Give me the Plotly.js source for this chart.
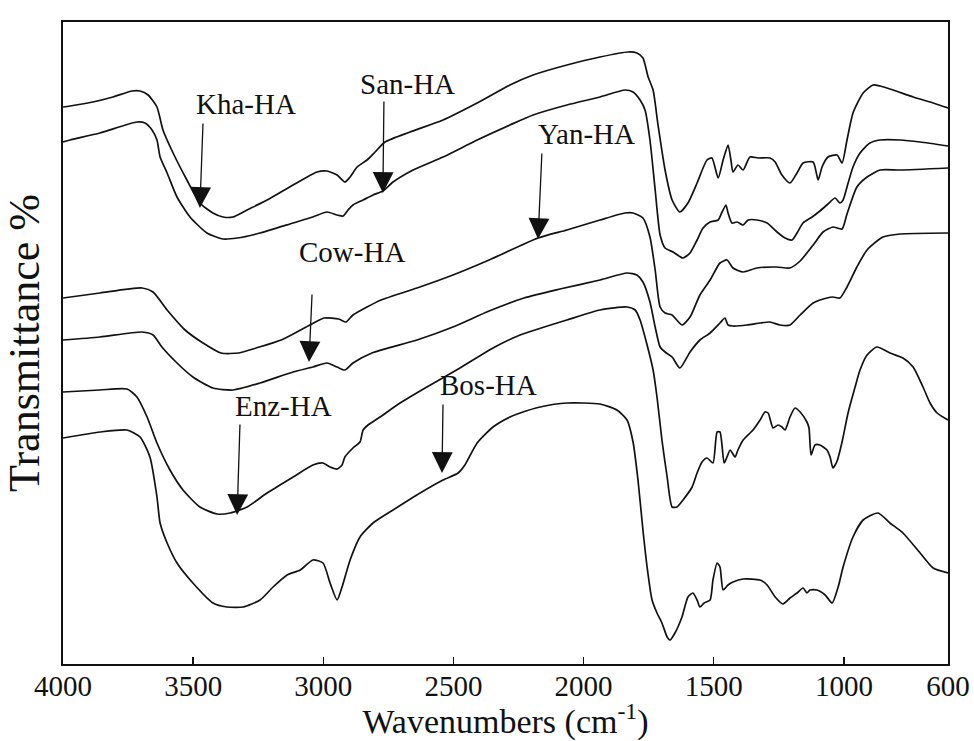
<!DOCTYPE html>
<html>
<head>
<meta charset="utf-8">
<script src="https://cdn.plot.ly/plotly-3.0.1.min.js"></script>
<style>html,body{margin:0;padding:0;background:#fff;}#chart{width:974px;height:741px;}</style>
</head>
<body>
<div id="chart"></div>
<script>
// Wavenumber (cm-1) and offset transmittance for each humic acid spectrum
const wn_kha = [4000,3973,3885,3808,3735,3704,3673,3639,3616,3577,3524,3474,3424,3385,3347,3293,3216,3116,3024,2986,2947,2917,2897,2870,2832,2801,2763,2667,2540,2409,2283,2194,2064,1937,1829,1795,1772,1752,1733,1714,1687,1660,1630,1599,1564,1526,1507,1483,1464,1445,1434,1426,1407,1387,1361,1330,1284,1264,1238,1207,1180,1157,1118,1099,1084,1061,1026,1007,988,965,926,888,861,811,734,657,600];
const t_kha = [55.7,55.8,56.2,56.7,57.3,57.3,56.9,55.7,53.4,51.1,48.4,46.1,45.1,44.7,44.7,45.4,46.4,47.9,49.2,49.3,48.9,48.2,48.7,49.7,50.4,51.2,52.2,53.2,54.4,56.1,57.9,58.9,59.9,60.7,61.2,61.1,60.6,58.7,57.4,53.9,49.4,46.4,45.2,46.1,48.1,50.4,50.6,48.6,50.4,51.9,50.4,49.2,49.9,49.4,50.7,50.6,50.6,50.2,48.9,48.1,49.1,50.1,50.2,48.4,49.7,50.7,50.9,50.1,52.4,55.1,57.1,57.9,57.8,57.4,56.7,56.1,55.6];

const wn_san = [4000,3973,3858,3716,3685,3658,3639,3627,3600,3562,3512,3447,3385,3331,3243,3116,3040,2986,2947,2924,2905,2886,2847,2809,2771,2732,2655,2540,2409,2283,2194,2064,1937,1841,1810,1783,1764,1745,1725,1706,1687,1656,1618,1591,1564,1541,1514,1483,1468,1453,1445,1430,1410,1387,1368,1334,1295,1257,1226,1199,1180,1157,1122,1092,1061,1034,1015,1003,988,965,938,900,861,784,707,600];
const t_san = [52.2,52.4,53.1,54.2,54.1,53.4,52.4,50.7,49.1,46.7,44.7,43.1,42.5,42.6,43.1,44.1,44.7,45.2,44.9,44.8,45.4,45.9,46.4,46.9,47.3,48.2,49.4,50.7,52.4,53.9,54.9,55.9,56.7,57.4,57.2,56.4,55.4,52.4,47.4,42.9,41.6,41.2,40.6,41.1,42.4,43.6,44.2,44.4,45.2,45.9,45.1,44.1,44.2,43.9,44.4,44.4,44.1,43.2,42.6,42.4,43.1,44.1,44.7,45.3,46.0,46.6,46.1,46.4,47.7,49.7,51.1,52.1,52.4,52.4,52.2,51.8];

const wn_yan = [4000,3858,3696,3654,3600,3531,3462,3393,3324,3258,3162,3051,2997,2940,2913,2886,2832,2778,2640,2502,2363,2175,2064,1937,1841,1810,1772,1745,1725,1706,1687,1660,1622,1591,1553,1514,1476,1449,1426,1387,1334,1257,1207,1168,1118,1080,1042,1007,988,950,911,861,784,600];
const t_yan = [36.6,37.1,37.6,37.2,35.4,33.4,32.1,31.1,31.1,31.6,32.4,33.9,34.6,34.5,34.2,34.9,35.7,36.4,37.6,38.9,40.4,42.6,43.4,44.4,45.1,45.1,44.6,42.7,39.4,35.7,35.1,34.9,33.9,34.7,36.9,38.4,40.1,40.4,39.6,39.2,39.6,39.7,39.6,40.3,41.9,43.2,43.7,43.5,45.0,47.7,48.7,49.4,49.4,49.6];

const wn_cow = [4000,3858,3696,3654,3620,3562,3501,3424,3347,3243,3116,3040,2986,2947,2917,2886,2813,2640,2502,2363,2229,2091,1937,1833,1795,1772,1745,1725,1706,1687,1660,1630,1591,1553,1514,1476,1457,1445,1426,1372,1322,1284,1245,1207,1168,1118,1065,1042,1015,988,950,911,850,784,600];
const t_cow = [32.4,32.7,33.2,32.9,31.7,30.1,28.7,27.6,27.4,28.1,29.2,29.7,30.1,29.7,29.4,30.1,31.1,32.4,33.7,35.3,36.6,37.5,38.4,39.1,38.9,38.2,36.2,33.7,31.7,31.2,30.7,29.6,31.2,32.4,33.1,34.1,34.6,33.9,33.8,33.9,34.1,34.2,33.9,33.9,34.9,36.1,36.6,36.7,36.6,37.7,39.7,41.4,42.7,43.0,43.1];

const wn_enz = [4000,3858,3754,3716,3677,3639,3589,3539,3474,3408,3358,3293,3216,3116,3040,3001,2974,2947,2928,2917,2886,2859,2847,2828,2782,2705,2602,2475,2348,2244,2064,1937,1833,1802,1783,1756,1733,1718,1699,1679,1660,1641,1618,1583,1564,1545,1526,1503,1487,1476,1460,1449,1437,1418,1407,1387,1349,1322,1303,1291,1272,1253,1238,1226,1207,1188,1168,1142,1134,1126,1111,1092,1065,1053,1042,1026,1007,984,957,938,911,873,823,773,734,696,669,642,600];
const t_enz = [27.2,27.4,27.5,26.7,24.7,22.1,19.4,17.4,15.7,15.0,15.1,15.7,17.1,18.7,19.9,20.1,19.7,19.5,19.9,20.7,21.6,22.2,23.4,23.9,24.7,26.1,27.7,29.6,31.6,32.9,34.4,35.4,35.7,35.4,34.4,31.9,29.4,26.7,22.4,18.7,15.7,15.7,16.4,17.7,19.1,20.2,20.6,20.1,23.2,23.2,20.1,20.7,21.4,20.7,21.4,22.4,23.4,24.4,25.2,25.1,23.6,23.9,23.7,23.4,24.7,25.6,25.2,24.2,23.6,20.9,21.9,21.9,21.4,20.7,19.6,20.3,22.2,25.1,27.7,29.4,30.9,31.7,31.1,30.6,29.7,27.7,26.1,25.1,24.4];

const wn_bos = [4000,3858,3754,3704,3666,3639,3627,3600,3562,3501,3424,3370,3308,3243,3193,3139,3089,3040,3001,2974,2947,2928,2897,2859,2809,2732,2628,2540,2482,2456,2409,2348,2283,2244,2167,2064,1937,1872,1833,1810,1791,1772,1756,1737,1718,1699,1679,1668,1649,1622,1599,1580,1564,1553,1537,1514,1503,1487,1476,1464,1445,1426,1387,1322,1295,1264,1234,1207,1180,1157,1142,1130,1103,1072,1045,1022,1003,965,926,869,823,773,707,657,600];
const t_bos = [22.6,23.2,23.4,22.7,20.7,16.7,14.1,12.1,10.1,8.1,6.1,5.7,5.7,6.4,7.7,8.9,9.4,10.4,10.1,8.1,6.4,7.7,10.4,12.7,14.1,15.4,17.1,18.4,19.1,19.9,22.1,23.7,24.7,25.1,25.7,26.1,26.0,25.4,24.4,22.2,18.4,13.4,9.7,6.4,5.1,4.1,2.7,2.4,3.1,4.7,6.7,7.1,6.4,5.7,6.1,6.4,8.4,10.1,9.7,7.4,7.9,8.2,8.5,8.4,7.9,6.7,6.0,6.6,7.1,7.6,7.1,7.4,7.4,6.9,6.1,7.7,9.7,12.7,14.4,15.1,14.1,13.1,11.1,9.6,9.1];

// Sample labels and arrow anchors (wavenumber, transmittance)
const labelText = ['Kha-HA','San-HA','Yan-HA','Cow-HA','Enz-HA','Bos-HA'];
const labelWn = [3297,2675,1987,2890,3151,2367];
const labelT = [56.0,58.0,53.0,41.2,25.8,27.9];
const arrowTailWn = [3462,2767,2160,3043,3320,2540];
const arrowTailT = [54.2,56.4,51.2,37.1,24.1,26.1];
const arrowTipWn = [3474,2771,2175,3055,3331,2544];
const arrowTipT = [45.6,47.1,42.5,30.2,14.9,19.1];

const tickVals = [4000,3500,3000,2500,2000,1500,1000,600];
const tickText = ['4000','3500','3000','2500','2000','1500','1000','600'];

const series = [[wn_kha,t_kha],[wn_san,t_san],[wn_yan,t_yan],[wn_cow,t_cow],[wn_enz,t_enz],[wn_bos,t_bos]];
const FONT = 'Liberation Serif, Times New Roman, serif';

const traces = series.map((s,i) => ({
  x: s[0], y: s[1], type: 'scatter', mode: 'lines', name: labelText[i],
  line: {color: '#111', width: 1.7, shape: 'spline', smoothing: 0.6},
  hoverinfo: 'skip', showlegend: false
}));

const annotations = [];
labelText.forEach((t,i) => {
  annotations.push({x: labelWn[i], y: labelT[i], xref: 'x', yref: 'y', text: t, showarrow: false,
    xanchor: 'center', yanchor: 'middle', font: {family: FONT, size: 29, color: '#111'}});
  annotations.push({x: arrowTipWn[i], y: arrowTipT[i], xref: 'x', yref: 'y',
    ax: arrowTailWn[i], ay: arrowTailT[i], axref: 'x', ayref: 'y', text: '',
    showarrow: true, arrowhead: 2, arrowsize: 3.2, arrowwidth: 1.3, arrowcolor: '#111'});
});

const layout = {
  width: 974, height: 741,
  margin: {l: 63, r: 26, t: 22, b: 77, pad: 0},
  paper_bgcolor: '#fff', plot_bgcolor: '#fff',
  showlegend: false,
  font: {family: FONT, color: '#111'},
  xaxis: {
    range: [4000, 600], tickvals: tickVals, ticktext: tickText,
    ticks: 'inside', ticklen: 7, tickwidth: 1.5, tickcolor: '#111',
    ticklabelstandoff: -5,
    showline: true, mirror: true, linewidth: 2, linecolor: '#111',
    showgrid: false, zeroline: false,
    tickfont: {family: FONT, size: 29, color: '#111'},
    title: {text: 'Wavenumbers (cm<sup>-1</sup>)', font: {family: FONT, size: 34, color: '#111'}, standoff: 0}
  },
  yaxis: {
    range: [0, 64.2], showticklabels: false, ticks: '',
    showline: true, mirror: true, linewidth: 2, linecolor: '#111',
    showgrid: false, zeroline: false,
    title: {text: 'Transmittance %', font: {family: FONT, size: 44, color: '#111'}, standoff: 10}
  },
  annotations: annotations
};

Plotly.newPlot('chart', traces, layout, {displayModeBar: false, staticPlot: true});
</script>
</body>
</html>
